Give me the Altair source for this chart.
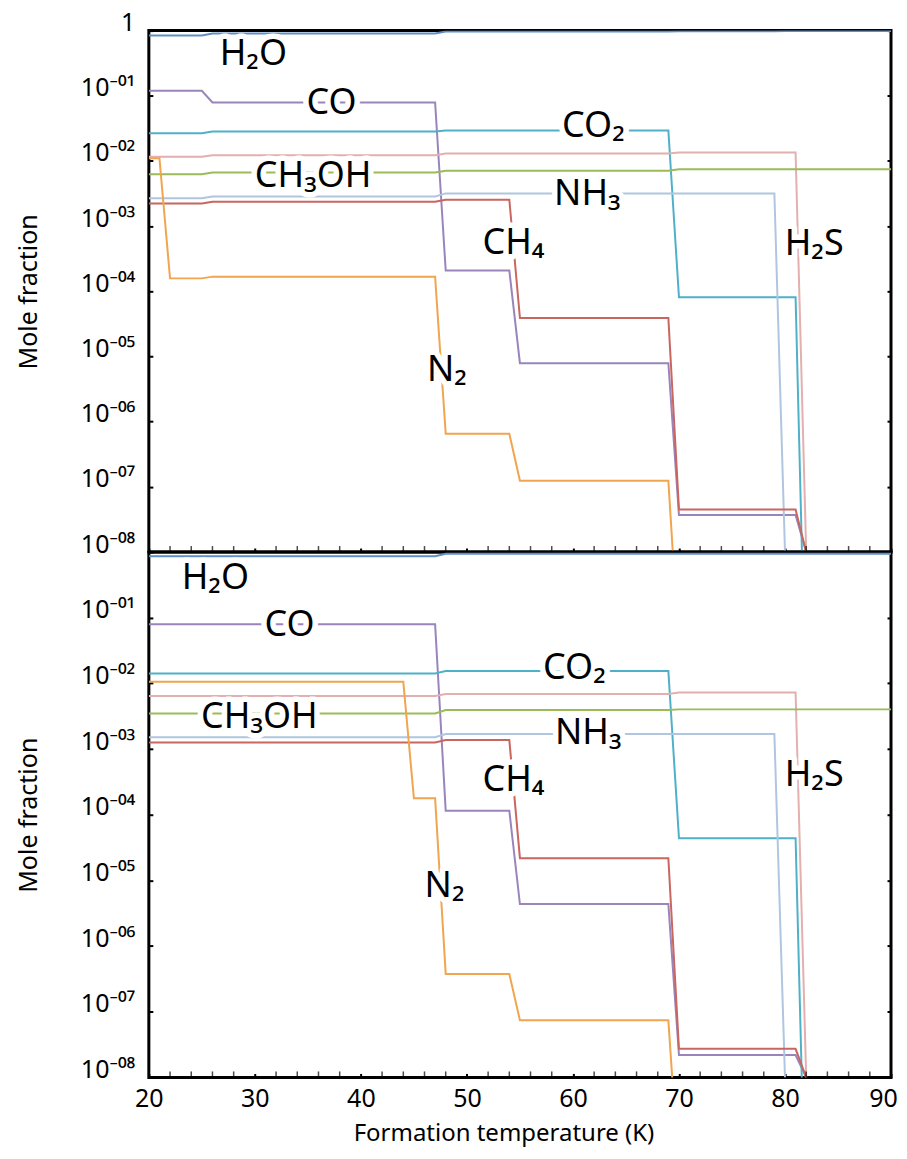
import altair as alt
import pandas as pd

# ---------------- data ----------------
species = ["H2O", "CO", "CO2", "H2S", "CH3OH", "NH3", "CH4", "N2"]
colors = ["#5f8fc6", "#9985bc", "#4fb1c9", "#e2b0ae", "#9bbb59", "#b0c6e0", "#c9665f", "#f0a54e"]

# top panel (temperature K, mole fraction)
top_H2O_T = [20, 25, 26, 47, 48, 69, 70, 79, 80, 90]
top_H2O_v = [0.84, 0.84, 0.90, 0.90, 0.965, 0.965, 0.975, 0.975, 0.985, 0.985]
top_CO_T = [20, 25, 26, 47, 48, 54, 55, 69, 70, 81, 82]
top_CO_v = [0.119, 0.119, 0.0788, 0.0788, 2.08e-4, 2.08e-4, 7.9e-6, 7.9e-6, 3.7e-8, 3.7e-8, 1e-8]
top_CO2_T = [20, 25, 26, 47, 48, 69, 70, 81, 82]
top_CO2_v = [0.0267, 0.0267, 0.0283, 0.0283, 0.0293, 0.0293, 8.1e-5, 8.1e-5, 2.5e-11]
top_H2S_T = [20, 25, 26, 47, 48, 69, 70, 81, 82]
top_H2S_v = [0.0116, 0.0116, 0.01227, 0.01227, 0.01303, 0.01303, 0.0135, 0.0135, 1e-8]
top_CH3OH_T = [20, 25, 26, 47, 48, 69, 70, 90]
top_CH3OH_v = [6.28e-3, 6.28e-3, 6.67e-3, 6.67e-3, 7.08e-3, 7.08e-3, 7.49e-3, 7.49e-3]
top_NH3_T = [20, 25, 26, 47, 48, 79, 80]
top_NH3_v = [2.69e-3, 2.69e-3, 2.86e-3, 2.86e-3, 3.18e-3, 3.18e-3, 1e-8]
top_CH4_T = [20, 25, 26, 47, 48, 54, 55, 69, 70, 81, 82]
top_CH4_v = [2.23e-3, 2.23e-3, 2.37e-3, 2.37e-3, 2.54e-3, 2.54e-3, 3.9e-5, 3.9e-5, 4.51e-8, 4.51e-8, 1e-8]
top_N2_T = [20, 21, 22, 25, 26, 47, 48, 54, 55, 69, 70]
top_N2_v = [0.0110, 0.0110, 1.58e-4, 1.58e-4, 1.68e-4, 1.68e-4, 6.5e-7, 6.5e-7, 1.24e-7, 1.24e-7, 3e-10]

# bottom panel
bot_H2O_T = [20, 47, 48, 90]
bot_H2O_v = [0.86, 0.86, 0.94, 0.94]
bot_CO_T = [20, 47, 48, 54, 55, 69, 70, 81, 82]
bot_CO_v = [0.0796, 0.0796, 1.15e-4, 1.15e-4, 4.36e-6, 4.36e-6, 2.19e-8, 2.19e-8, 1e-8]
bot_CO2_T = [20, 47, 48, 69, 70, 81, 82]
bot_CO2_v = [0.01415, 0.01415, 0.01538, 0.01538, 4.4e-5, 4.4e-5, 2.5e-11]
bot_H2S_T = [20, 47, 48, 69, 70, 81, 82]
bot_H2S_v = [6.41e-3, 6.41e-3, 6.88e-3, 6.88e-3, 7.27e-3, 7.27e-3, 1e-8]
bot_CH3OH_T = [20, 47, 48, 69, 70, 90]
bot_CH3OH_v = [3.49e-3, 3.49e-3, 3.93e-3, 3.93e-3, 4.02e-3, 4.02e-3]
bot_NH3_T = [20, 47, 48, 79, 80]
bot_NH3_v = [1.51e-3, 1.51e-3, 1.69e-3, 1.69e-3, 1e-8]
bot_CH4_T = [20, 47, 48, 54, 55, 69, 70, 81, 82]
bot_CH4_v = [1.26e-3, 1.26e-3, 1.37e-3, 1.37e-3, 2.18e-5, 2.18e-5, 2.73e-8, 2.73e-8, 1e-8]
bot_N2_T = [20, 44, 45, 47, 48, 54, 55, 69, 70]
bot_N2_v = [0.01057, 0.01057, 1.78e-4, 1.78e-4, 3.77e-7, 3.77e-7, 7.4e-8, 7.4e-8, 3e-10]

# in-plot labels
label_text = ["H₂O", "CO", "CO₂", "CH₃OH", "NH₃", "CH₄", "H₂S", "N₂"]
top_label_T = [29.86, 37.24, 61.93, 35.5, 61.36, 54.39, 82.75, 48.12]
top_label_v = [0.433, 0.078, 0.0344, 5.78e-3, 3.07e-3, 5.54e-4, 5.25e-4, 6.15e-6]
bot_label_T = [26.27, 33.26, 60.14, 30.43, 61.45, 54.39, 82.75, 47.89]
bot_label_v = [0.402, 0.0764, 0.01695, 3.03e-3, 1.77e-3, 3.43e-4, 3.98e-4, 8.19e-6]

# axes
x_major_ticks = [20, 30, 40, 50, 60, 70, 80, 90]
x_minor_ticks = [22, 24, 26, 28, 32, 34, 36, 38, 42, 44, 46, 48, 52, 54, 56, 58,
                 62, 64, 66, 68, 72, 74, 76, 78, 82, 84, 86, 88]
y_decades = [1e-8, 1e-7, 1e-6, 1e-5, 1e-4, 1e-3, 1e-2, 1e-1, 1]
y_decade_labels = ["10⁻⁰⁸", "10⁻⁰⁷", "10⁻⁰⁶", "10⁻⁰⁵", "10⁻⁰⁴", "10⁻⁰³", "10⁻⁰²", "10⁻⁰¹", "1"]
y_floor = 1e-8

FONT = "Noto Sans"


def lines_df(prefix):
    g = globals()
    rows = []
    for order, s in enumerate(species):
        for t, v in zip(g[f"{prefix}_{s}_T"], g[f"{prefix}_{s}_v"]):
            rows.append({"species": s, "order": order, "T": t, "v": v})
    return pd.DataFrame(rows)


label_expr = "[" + ",".join(f"'{s}'" for s in y_decade_labels) + "][round(log(datum.value)/LN10)+8]"


def panel(prefix, lab_T, lab_v, height, bottom):
    df = lines_df(prefix)
    lab = pd.DataFrame({"text": label_text, "T": lab_T, "v": lab_v})
    minor = pd.DataFrame({"T": x_minor_ticks, "v": [y_floor] * len(x_minor_ticks)})
    yscale = alt.Scale(type="log", domain=[1e-8, 1], nice=False)
    xscale = alt.Scale(domain=[20, 90], nice=False, zero=False)
    yvals = y_decades if not bottom else y_decades[:-1]

    x_axis = alt.Axis(
        orient="bottom", values=x_major_ticks, format="d",
        labels=bottom,
        title="Formation temperature (K)" if bottom else None,
        offset=-4, tickSize=4, domain=False,
        labelFontSize=25, labelPadding=9, labelFlush=False,
        labelOffset={"condition": {"test": "datum.value == 90", "value": -8}, "value": 0},
        titleFontSize=24, titlePadding=10, titleX=355,
    )
    left_axis = alt.Axis(
        orient="left", values=yvals, labelExpr=label_expr,
        offset=-4, tickSize=4, domain=False,
        labelFontSize=25, labelPadding=14, labelBaseline="alphabetic",
        labelFlush=False, labelOverlap=False,
        title="Mole fraction", titleFontSize=25, titlePadding=39,
    )
    right_axis = alt.Axis(
        orient="right", values=y_decades, labels=False,
        offset=-4, tickSize=4, domain=False, title=None,
    )

    lines = alt.Chart(df).mark_line(strokeWidth=2, clip=True).encode(
        x=alt.X("T:Q", scale=xscale, axis=x_axis),
        y=alt.Y("v:Q", scale=yscale, axis=left_axis),
        color=alt.Color("species:N", scale=alt.Scale(domain=species, range=colors), legend=None),
        detail="species:N",
        order="T:Q",
    )
    minor_ticks = alt.Chart(minor).mark_tick(
        orient="vertical", size=6, thickness=1.5, color="black", yOffset=-3,
    ).encode(
        x=alt.X("T:Q", scale=xscale),
        y=alt.Y("v:Q", scale=yscale, axis=None),
    )
    halo = alt.Chart(lab).mark_text(
        font=FONT, fontSize=36, baseline="middle", align="center",
        stroke="white", strokeWidth=11, strokeJoin="round", fill="white",
    ).encode(
        x=alt.X("T:Q", scale=xscale),
        y=alt.Y("v:Q", scale=yscale, axis=right_axis),
        text="text:N",
    )
    text = alt.Chart(lab).mark_text(
        font=FONT, fontSize=36, baseline="middle", align="center", color="black",
    ).encode(
        x=alt.X("T:Q", scale=xscale),
        y=alt.Y("v:Q", scale=yscale, axis=None),
        text="text:N",
    )
    return (
        alt.layer(lines, halo, text, minor_ticks)
        .resolve_scale(y="shared")
        .resolve_axis(y="independent")
        .properties(width=743, height=height)
    )


top = panel("top", top_label_T, top_label_v, 522, False)
bot = panel("bot", bot_label_T, bot_label_v, 526, True)

chart = (
    alt.vconcat(top, bot, spacing=0, bounds="flush")
    .properties(padding={"left": 6, "top": 0, "right": 0, "bottom": 0})
    .configure_view(stroke="black", strokeWidth=3)
    .configure_axis(
        labelFont=FONT, titleFont=FONT, labelColor="black", titleColor="black",
        tickColor="black", tickWidth=2, titleFontWeight="normal", grid=False,
    )
)

chart.save("out.html", embed_options={"renderer": "svg", "actions": False})
